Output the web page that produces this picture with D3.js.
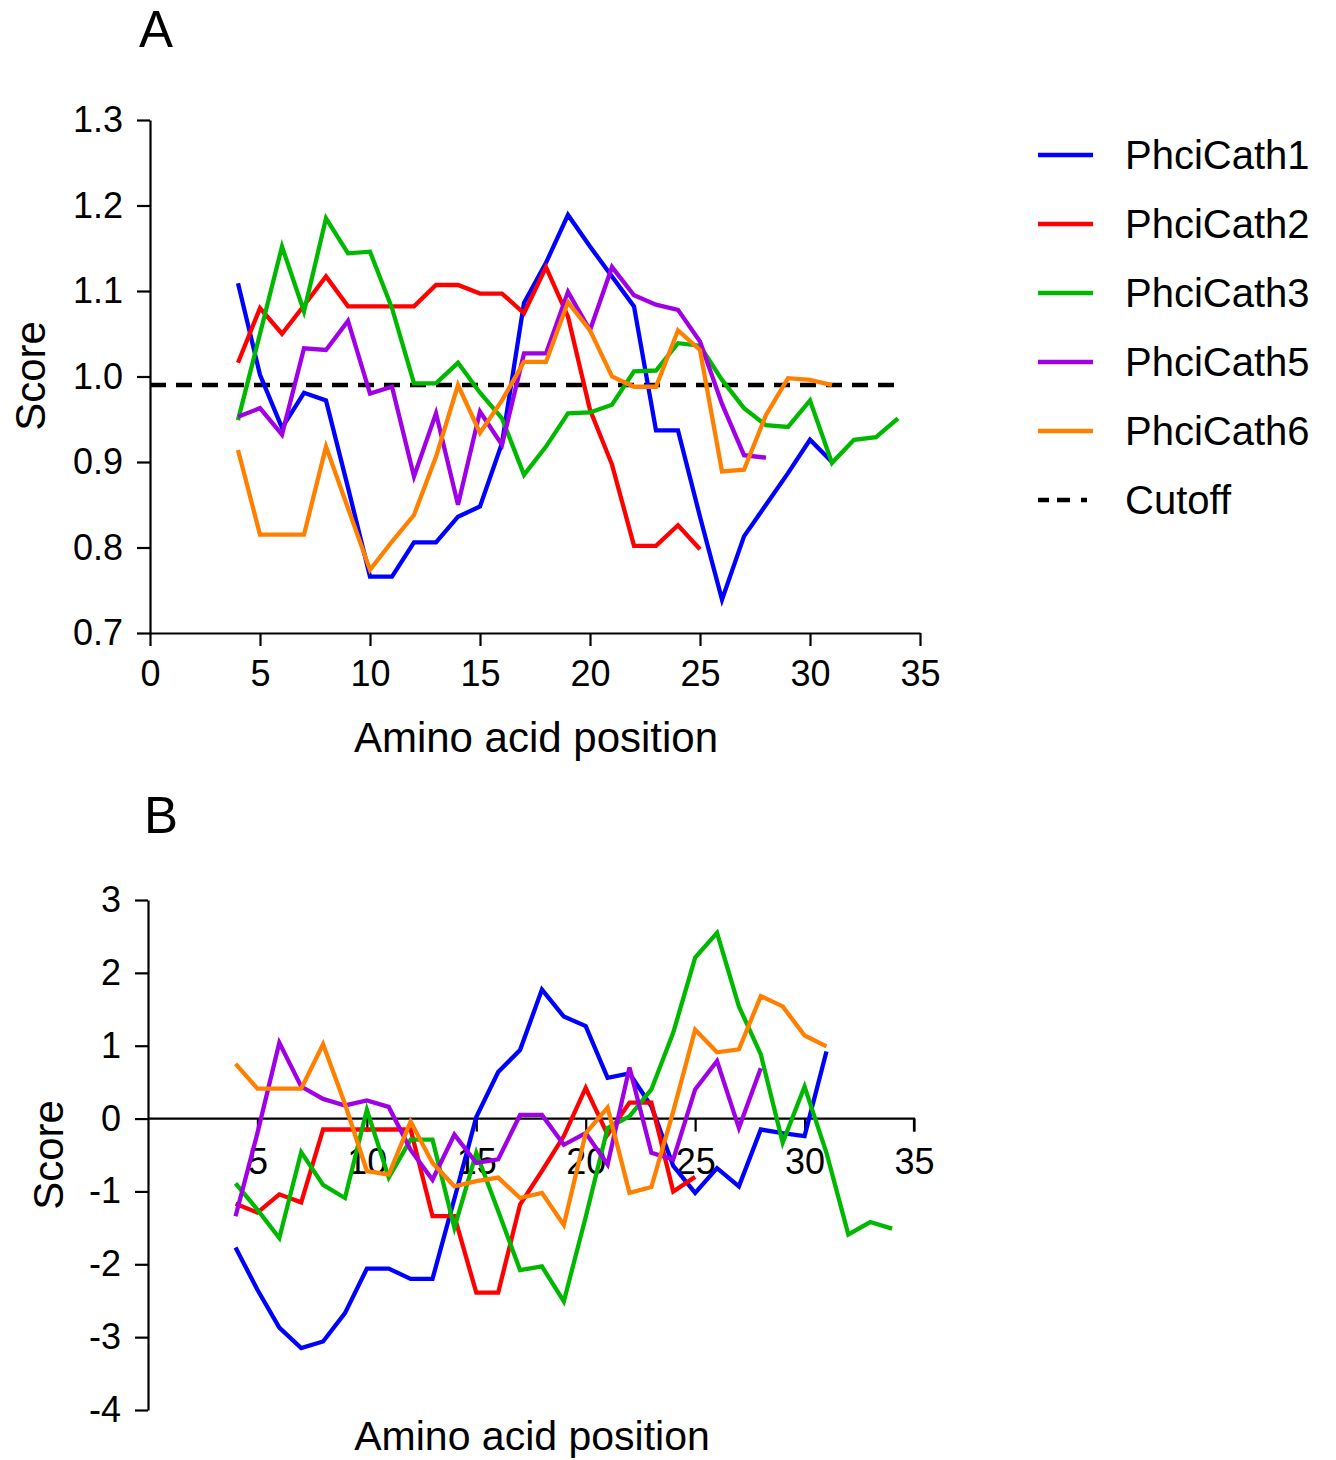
<!DOCTYPE html>
<html>
<head>
<meta charset="utf-8">
<script src="https://cdn.jsdelivr.net/npm/d3@7"></script>
<style>
  body { margin: 0; background: #fff; }
  svg { display: block; }
  text { font-family: "Liberation Sans", Arial, sans-serif; fill: #000; }
  .axis path, .axis line { stroke: #000; stroke-width: 2.2; }
  .axis text { font-size: 36px; font-family: "Liberation Sans", Arial, sans-serif; }
</style>
</head>
<body>
<div id="chart"></div>
<script>
// amino acid positions (window centres), series values start at position 4
const positions = [4, 5, 6, 7, 8, 9, 10, 11, 12, 13, 14, 15, 16, 17, 18, 19, 20, 21, 22, 23, 24, 25, 26, 27, 28, 29, 30, 31, 32, 33, 34];

const names = ["PhciCath1", "PhciCath2", "PhciCath3", "PhciCath5", "PhciCath6"];
const colors = ["#0000ff", "#ff0000", "#00b800", "#a000e6", "#ff8000"];

// Panel A score
const cath1A = [1.109, 1.002, 0.94, 0.981, 0.972, 0.87, 0.766, 0.766, 0.806, 0.806, 0.836, 0.848, 0.922, 1.086, 1.133, 1.189, 1.152, 1.117, 1.082, 0.937, 0.937, 0.836, 0.739, 0.813, 0.85, 0.887, 0.926, 0.90];
const cath2A = [1.016, 1.08, 1.05, 1.083, 1.117, 1.082, 1.082, 1.082, 1.082, 1.107, 1.107, 1.097, 1.097, 1.074, 1.128, 1.07, 0.961, 0.897, 0.802, 0.802, 0.826, 0.798];
const cath3A = [0.949, 1.05, 1.152, 1.076, 1.185, 1.144, 1.146, 1.08, 0.992, 0.992, 1.016, 0.981, 0.951, 0.885, 0.918, 0.957, 0.958, 0.967, 1.006, 1.007, 1.039, 1.036, 0.996, 0.963, 0.943, 0.941, 0.972, 0.899, 0.926, 0.929, 0.951];
const cath5A = [0.953, 0.963, 0.932, 1.033, 1.031, 1.065, 0.98, 0.988, 0.883, 0.957, 0.85, 0.959, 0.92, 1.027, 1.027, 1.099, 1.054, 1.128, 1.095, 1.084, 1.078, 1.041, 0.968, 0.908, 0.905];
const cath6A = [0.914, 0.815, 0.815, 0.815, 0.918, 0.846, 0.774, 0.807, 0.838, 0.906, 0.99, 0.934, 0.972, 1.017, 1.017, 1.087, 1.054, 1.0, 0.988, 0.988, 1.054, 1.031, 0.889, 0.891, 0.955, 0.998, 0.996, 0.99];
const cutoffX = [0, 34];
const cutoffValue = 0.99;

// Panel B score
const cath1B = [-1.77, -2.35, -2.87, -3.15, -3.06, -2.67, -2.06, -2.06, -2.2, -2.2, -1.1, 0.02, 0.64, 0.94, 1.77, 1.4, 1.27, 0.56, 0.62, 0.17, -0.65, -1.02, -0.68, -0.93, -0.15, -0.2, -0.24, 0.92];
const cath2B = [-1.17, -1.29, -1.04, -1.15, -0.15, -0.15, -0.15, -0.15, -0.15, -1.34, -1.34, -2.39, -2.39, -1.18, -0.72, -0.24, 0.42, -0.22, 0.22, 0.22, -1.0, -0.8];
const cath3B = [-0.89, -1.25, -1.64, -0.46, -0.91, -1.09, 0.12, -0.81, -0.29, -0.29, -1.5, -0.47, -1.27, -2.08, -2.03, -2.51, -1.35, -0.13, 0.03, 0.4, 1.18, 2.21, 2.55, 1.54, 0.88, -0.33, 0.44, -0.47, -1.59, -1.42, -1.51];
const cath5B = [-1.34, -0.2, 1.04, 0.44, 0.27, 0.18, 0.25, 0.16, -0.43, -0.84, -0.22, -0.61, -0.56, 0.05, 0.05, -0.36, -0.2, -0.63, 0.7, -0.47, -0.56, 0.4, 0.79, -0.13, 0.69];
const cath6B = [0.75, 0.41, 0.41, 0.41, 1.02, 0.2, -0.72, -0.77, -0.04, -0.61, -0.93, -0.86, -0.81, -1.09, -1.02, -1.46, -0.2, 0.15, -1.02, -0.94, 0.1, 1.22, 0.91, 0.95, 1.68, 1.54, 1.14, 0.99];

const xTicksA = [0, 5, 10, 15, 20, 25, 30, 35];
const yTicksA = [0.7, 0.8, 0.9, 1.0, 1.1, 1.2, 1.3];
const xTicksB = [5, 10, 15, 20, 25, 30, 35];
const yTicksB = [-4, -3, -2, -1, 0, 1, 2, 3];

const seriesA = [cath1A, cath2A, cath3A, cath5A, cath6A];
const seriesB = [cath1B, cath2B, cath3B, cath5B, cath6B];

const width = 1336;
const height = 1460;

const svg = d3.select("#chart")
    .append("svg")
    .attr("width", width)
    .attr("height", height);

// ---------- panel A ----------
const xA = d3.scaleLinear().domain([0, 35]).range([150, 920]);
const yA = d3.scaleLinear().domain([0.7, 1.3]).range([633, 120]);

svg.append("g")
    .attr("class", "axis")
    .attr("transform", "translate(0,633)")
    .call(d3.axisBottom(xA).tickValues(xTicksA).tickSize(13).tickSizeOuter(0).tickPadding(14));

svg.append("g")
    .attr("class", "axis")
    .attr("transform", "translate(150,0)")
    .call(d3.axisLeft(yA).tickValues(yTicksA).tickFormat(d3.format(".1f")).tickSize(13).tickSizeOuter(0).tickPadding(14));

const lineA = d3.line()
    .x((d, i) => xA(positions[i]))
    .y(d => yA(d));

svg.append("line")
    .attr("x1", xA(cutoffX[0]))
    .attr("x2", xA(cutoffX[1]))
    .attr("y1", yA(cutoffValue))
    .attr("y2", yA(cutoffValue))
    .attr("stroke", "#000")
    .attr("stroke-width", 4.5)
    .attr("stroke-dasharray", "16,10");

seriesA.forEach((s, k) => {
    svg.append("path")
        .datum(s)
        .attr("fill", "none")
        .attr("stroke", colors[k])
        .attr("stroke-width", 4.3)
        .attr("d", lineA);
});

svg.append("text")
    .attr("x", 156)
    .attr("y", 47)
    .attr("text-anchor", "middle")
    .attr("font-size", 51)
    .text("A");

svg.append("text")
    .attr("x", 536)
    .attr("y", 752)
    .attr("text-anchor", "middle")
    .attr("font-size", 42)
    .text("Amino acid position");

svg.append("text")
    .attr("transform", "translate(45,376) rotate(-90)")
    .attr("text-anchor", "middle")
    .attr("font-size", 42)
    .text("Score");

// legend
const legend = svg.append("g");
const legendNames = names.concat(["Cutoff"]);
legendNames.forEach((n, k) => {
    const ly = 155 + k * 69;
    legend.append("line")
        .attr("x1", 1038)
        .attr("x2", 1093)
        .attr("y1", ly)
        .attr("y2", ly)
        .attr("stroke", k < 5 ? colors[k] : "#000")
        .attr("stroke-width", 4.5)
        .attr("stroke-dasharray", k < 5 ? null : "11,8,13,11,6");
    legend.append("text")
        .attr("x", 1125)
        .attr("y", ly + 14)
        .attr("font-size", 40)
        .text(n);
});

// ---------- panel B ----------
const xB = d3.scaleLinear().domain([0, 35]).range([148, 914]);
const yB = d3.scaleLinear().domain([-4, 3]).range([1410, 900]);

svg.append("g")
    .attr("class", "axis")
    .attr("transform", "translate(0," + yB(0) + ")")
    .call(d3.axisBottom(xB).tickValues(xTicksB).tickSize(13).tickSizeOuter(0).tickPadding(17))
    .select(".domain")
    .attr("d", `M${xB(0)},0H${xB(35)}V13`);

svg.append("g")
    .attr("class", "axis")
    .attr("transform", "translate(148,0)")
    .call(d3.axisLeft(yB).tickValues(yTicksB).tickFormat(d => String(d)).tickSize(13).tickSizeOuter(0).tickPadding(14));

const lineB = d3.line()
    .x((d, i) => xB(positions[i]))
    .y(d => yB(d));

seriesB.forEach((s, k) => {
    svg.append("path")
        .datum(s)
        .attr("fill", "none")
        .attr("stroke", colors[k])
        .attr("stroke-width", 4.3)
        .attr("d", lineB);
});

svg.append("text")
    .attr("x", 161)
    .attr("y", 833)
    .attr("text-anchor", "middle")
    .attr("font-size", 51)
    .text("B");

svg.append("text")
    .attr("x", 532)
    .attr("y", 1450)
    .attr("text-anchor", "middle")
    .attr("font-size", 41)
    .text("Amino acid position");

svg.append("text")
    .attr("transform", "translate(63,1155) rotate(-90)")
    .attr("text-anchor", "middle")
    .attr("font-size", 42)
    .text("Score");
</script>
</body>
</html>
